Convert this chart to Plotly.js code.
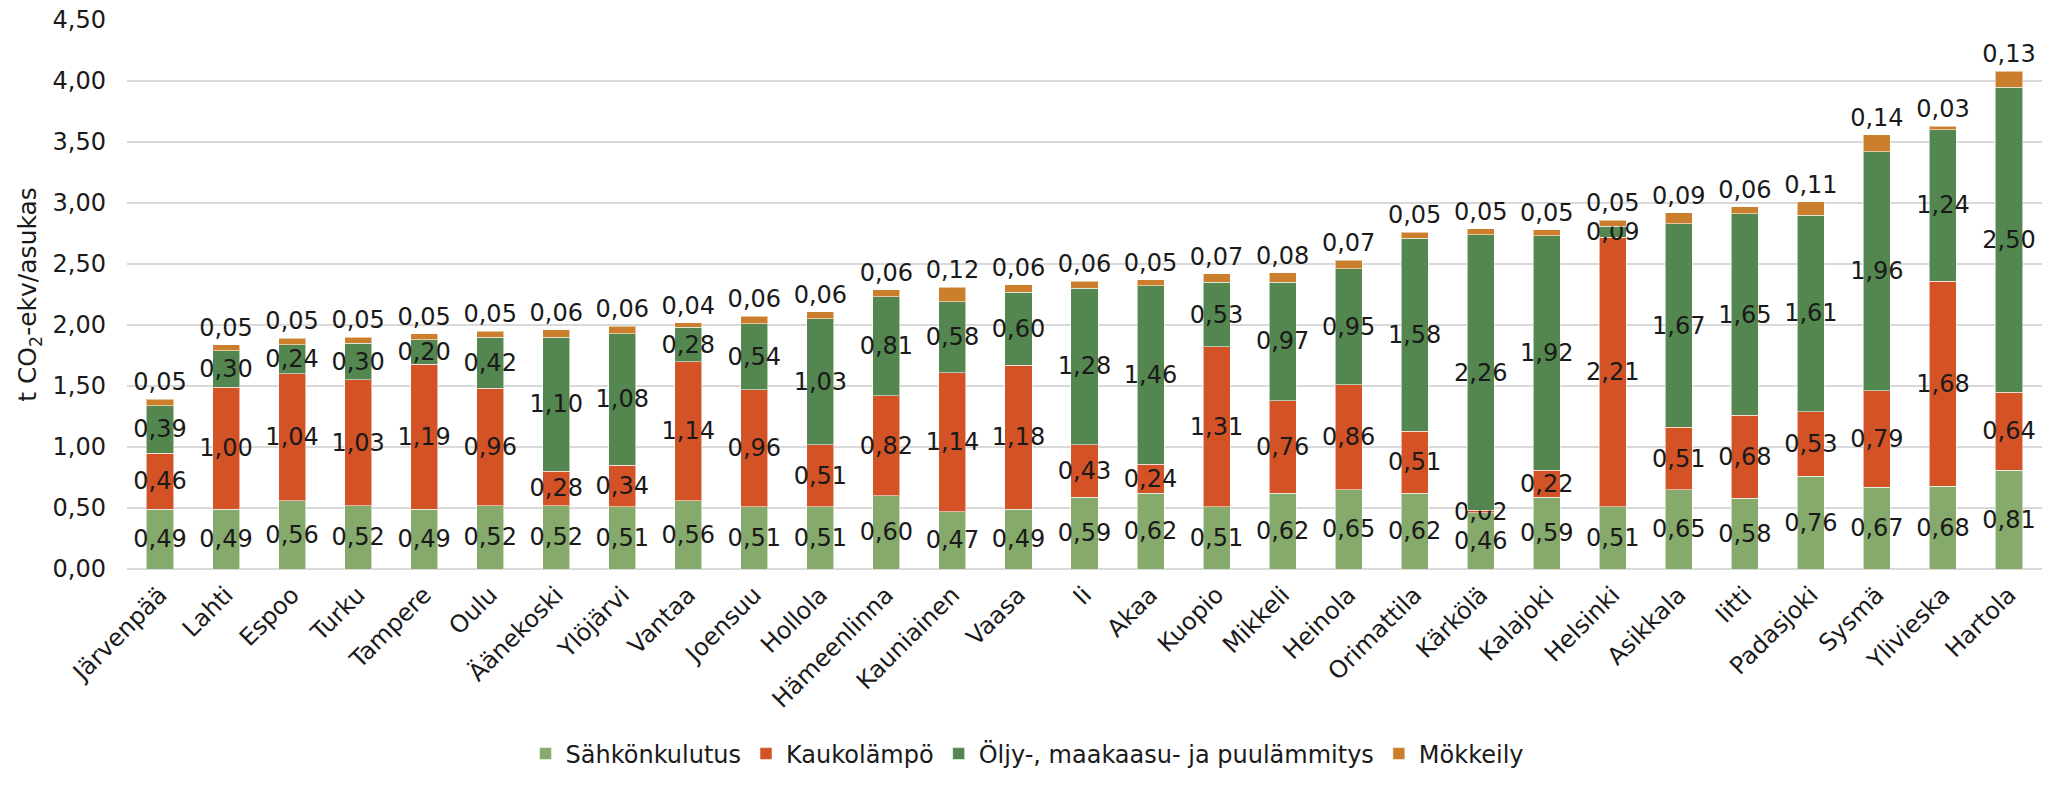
<!DOCTYPE html>
<html>
<head>
<meta charset="utf-8">
<script src="https://cdn.plot.ly/plotly-3.0.1.min.js"></script>
<style>html,body{margin:0;padding:0;background:#fff;}#chart{width:2062px;height:789px;}</style>
</head>
<body>
<div id="chart"></div>
<script>
const cities = ["Järvenpää","Lahti","Espoo","Turku","Tampere","Oulu","Äänekoski","Ylöjärvi","Vantaa","Joensuu","Hollola","Hämeenlinna","Kauniainen","Vaasa","Ii","Akaa","Kuopio","Mikkeli","Heinola","Orimattila","Kärkölä","Kalajoki","Helsinki","Asikkala","Iitti","Padasjoki","Sysmä","Ylivieska","Hartola"];
const sahko = [0.49,0.49,0.56,0.52,0.49,0.52,0.52,0.51,0.56,0.51,0.51,0.60,0.47,0.49,0.59,0.62,0.51,0.62,0.65,0.62,0.46,0.59,0.51,0.65,0.58,0.76,0.67,0.68,0.81];
const kauko = [0.46,1.00,1.04,1.03,1.19,0.96,0.28,0.34,1.14,0.96,0.51,0.82,1.14,1.18,0.43,0.24,1.31,0.76,0.86,0.51,0.02,0.22,2.21,0.51,0.68,0.53,0.79,1.68,0.64];
const oljy = [0.39,0.30,0.24,0.30,0.20,0.42,1.10,1.08,0.28,0.54,1.03,0.81,0.58,0.60,1.28,1.46,0.53,0.97,0.95,1.58,2.26,1.92,0.09,1.67,1.65,1.61,1.96,1.24,2.50];
const mokki = [0.05,0.05,0.05,0.05,0.05,0.05,0.06,0.06,0.04,0.06,0.06,0.06,0.12,0.06,0.06,0.05,0.07,0.08,0.07,0.05,0.05,0.05,0.05,0.09,0.06,0.11,0.14,0.03,0.13];
const seriesNames = ["Sähkönkulutus","Kaukolämpö","Öljy-, maakaasu- ja puulämmitys","Mökkeily"];
const yTicks = [0,0.5,1,1.5,2,2.5,3,3.5,4,4.5];
const yTickText = ["0,00","0,50","1,00","1,50","2,00","2,50","3,00","3,50","4,00","4,50"];

const FONT = "DejaVu Sans";
const FS = 24;
const TXT = "#1a1a1a";
const colors = ["#86AA6B","#D45326","#548650","#CB7E2B"];
const fmt = v => v.toFixed(2).replace(".", ",");

function mk(vals, i, pos) {
  return {
    type: "bar",
    name: seriesNames[i],
    x: cities,
    y: vals,
    text: vals.map(fmt),
    textposition: pos,
    textangle: 0,
    insidetextanchor: "middle",
    constraintext: "none",
    cliponaxis: false,
    textfont: {family: FONT, size: FS, color: TXT},
    insidetextfont: {family: FONT, size: FS, color: TXT},
    outsidetextfont: {family: FONT, size: FS, color: TXT},
    marker: {color: colors[i], line: {color: "rgba(255,255,255,0.55)", width: 1}},
    hoverinfo: "x+y+name"
  };
}

const data = [
  mk(sahko, 0, "inside"),
  mk(kauko, 1, "inside"),
  mk(oljy, 2, "inside"),
  mk(mokki, 3, "outside")
];

const layout = {
  width: 2062,
  height: 789,
  barmode: "stack",
  bargap: 0.59,
  paper_bgcolor: "#ffffff",
  plot_bgcolor: "#ffffff",
  margin: {l: 127, r: 20, t: 20, b: 206},
  font: {family: FONT, size: FS, color: TXT},
  showlegend: true,
  legend: {
    orientation: "h",
    x: 0.47, xanchor: "center",
    y: -0.337, yanchor: "middle",
    font: {family: FONT, size: FS, color: TXT},
    traceorder: "normal",
    itemwidth: 30
  },
  xaxis: {
    type: "category",
    tickangle: -45,
    tickfont: {family: FONT, size: FS, color: TXT},
    showgrid: false,
    showline: false,
    ticks: "",
    ticklabelstandoff: 6,
    automargin: false
  },
  yaxis: {
    range: [0, 4.5],
    tickvals: yTicks,
    ticktext: yTickText,
    tickfont: {family: FONT, size: FS, color: TXT},
    showgrid: true,
    gridcolor: "#d9d9d9",
    gridwidth: 1.5,
    zeroline: true,
    zerolinecolor: "#d9d9d9",
    zerolinewidth: 1.5,
    showline: false,
    ticks: "",
    ticklabelstandoff: 20,
    automargin: false,
    title: {text: "t CO<sub>2</sub>-ekv/asukas", font: {family: FONT, size: 25, color: TXT}, standoff: 8}
  }
};

Plotly.newPlot("chart", data, layout, {displayModeBar: false, staticPlot: true});
</script>
</body>
</html>
